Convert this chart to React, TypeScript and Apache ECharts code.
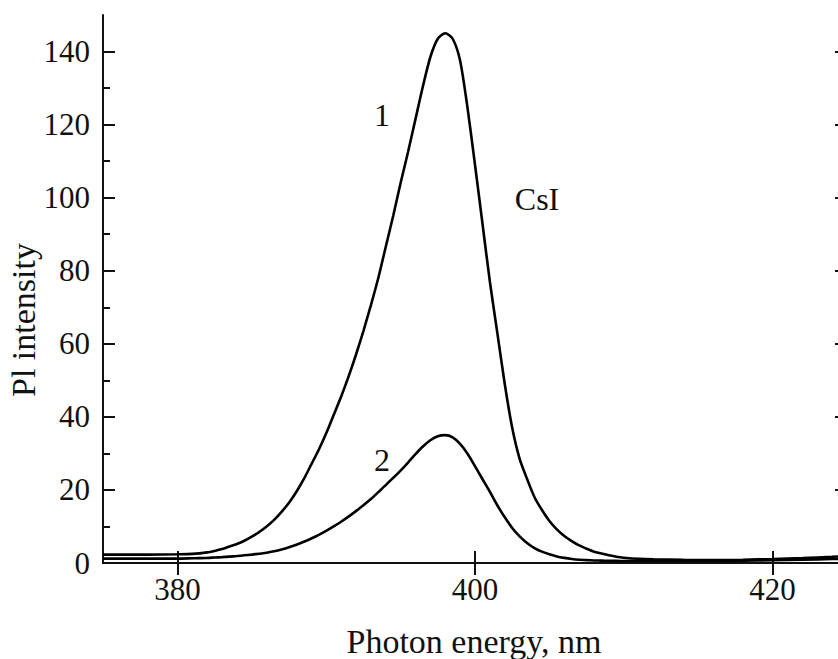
import React, { useEffect, useRef } from "react";
import * as echarts from "echarts";

const wavelengths = [
  375, 378, 380, 381, 382, 382.5, 383, 383.5, 384, 384.5, 385, 385.5, 386, 386.5, 387, 387.5, 388, 388.5,
  389, 389.5, 390, 390.5, 391, 391.5, 392, 392.5, 393, 393.5, 394, 394.5, 395, 395.5, 396, 396.5, 397,
  397.5, 398, 398.5, 399, 399.5, 400, 400.5, 401, 401.5, 402, 402.5, 403, 403.5, 404, 404.5, 405, 405.5,
  406, 406.5, 407, 407.5, 408, 408.5, 409, 409.5, 410, 411, 412, 414, 416, 418, 420, 422, 424, 425,
];
const curve1 = [
  2.3, 2.3, 2.4, 2.5, 2.9, 3.3, 3.8, 4.5, 5.2, 6.1, 7.2, 8.5, 10.0, 11.8, 14.0, 16.5, 19.5, 23.0,
  27.0, 31.0, 35.5, 40.5, 45.5, 51, 57, 63.5, 70.5, 78, 86.5, 95, 104, 112.5, 121.5, 130.5, 138.5,
  143.5, 145, 143.5, 137.5, 124.5, 109, 93, 77, 63, 49, 37, 28.5, 23, 18, 14.5, 11.5, 9.2,
  7.4, 6.0, 4.8, 3.9, 3.1, 2.6, 2.1, 1.7, 1.45, 1.15, 1.0, 0.85, 0.8, 0.9, 1.1, 1.35, 1.7, 1.9,
];
const curve2 = [
  1.2, 1.2, 1.2, 1.3, 1.4, 1.5, 1.6, 1.75, 1.9, 2.1, 2.3, 2.55, 2.8, 3.2, 3.7, 4.3, 5.0, 5.8,
  6.7, 7.7, 8.8, 10.0, 11.3, 12.7, 14.2, 15.8, 17.5, 19.4, 21.3, 23.3, 25.3, 27.5, 29.8, 31.9, 33.6,
  34.7, 35, 34.4, 32.6, 29.9, 26.5, 23, 19.5, 15.8, 12.5, 9.6, 7.3, 5.5, 4.1, 3.1, 2.4, 1.8,
  1.4, 1.1, 0.9, 0.8, 0.7, 0.65, 0.6, 0.58, 0.55, 0.5, 0.5, 0.5, 0.5, 0.6, 0.75, 0.9, 1.1, 1.2,
];
const xTicks = [380, 400, 420];
const yMajorTicks = [0, 20, 40, 60, 80, 100, 120, 140];
const yMinorTicks = [10, 30, 50, 70, 90, 110, 130];
const curveNames = ["1", "2"];
const sampleName = "CsI";
const xTitle = "Photon energy, nm";
const yTitle = "Pl intensity";

export default function App() {
  const ref = useRef<HTMLDivElement>(null);
  useEffect(() => {
    const chart = echarts.init(ref.current!, null, { renderer: "svg" });
    const font = "'Liberation Serif', 'Times New Roman', serif";
    const ink = "#111";
    const axisLine = { show: true, lineStyle: { color: ink, width: 2 } };
    const mkX = (position: string, showLabel: boolean) => ({
      type: "value",
      min: 375,
      max: 425,
      position,
      axisLine,
      splitLine: { show: false },
      axisTick: { show: true, inside: true, length: 12, customValues: xTicks, lineStyle: { color: ink, width: 2 } },
      axisLabel: {
        show: showLabel,
        customValues: xTicks,
        fontSize: 31,
        fontFamily: font,
        color: ink,
        margin: 11,
      },
    });
    const mkY = (position: string, ticks: number[], len: number, showLabel: boolean, showLine: boolean) => ({
      type: "value",
      min: 0,
      max: 150,
      position,
      axisLine: { ...axisLine, show: showLine },
      splitLine: { show: false },
      axisTick: { show: true, inside: true, length: len, customValues: ticks, lineStyle: { color: ink, width: 2 } },
      axisLabel: {
        show: showLabel,
        customValues: ticks,
        fontSize: 31,
        fontFamily: font,
        color: ink,
        margin: 13,
      },
    });
    const mkSeries = (values: number[]) => ({
      type: "line",
      xAxisIndex: 0,
      yAxisIndex: 0,
      data: wavelengths.map((w, i) => [w, values[i]]),
      showSymbol: false,
      smooth: 0.25,
      lineStyle: { color: "#000", width: 2.6 },
      clip: true,
    });
    const textStyle = (size: number) => ({ fontSize: size, fontFamily: font, fill: ink, align: "center", verticalAlign: "middle" });
    chart.setOption({
      animation: false,
      backgroundColor: "#fff",
      grid: { left: 103, top: 15, width: 744, height: 548, outerBoundsMode: "none" },
      xAxis: [mkX("bottom", true), mkX("top", false)],
      yAxis: [
        mkY("left", yMajorTicks, 12, true, true),
        mkY("left", yMinorTicks, 7, false, false),
        mkY("right", yMajorTicks, 12, false, true),
        mkY("right", yMinorTicks, 7, false, false),
      ],
      series: [mkSeries(curve1), mkSeries(curve2)],
      graphic: [
        { type: "text", x: 382, y: 115, style: { text: curveNames[0], ...textStyle(32) } },
        { type: "text", x: 382, y: 460, style: { text: curveNames[1], ...textStyle(32) } },
        { type: "text", x: 537, y: 199, style: { text: sampleName, ...textStyle(32) } },
        { type: "text", x: 474, y: 641, style: { text: xTitle, ...textStyle(34) } },
        { type: "text", x: 23, y: 320, rotation: Math.PI / 2, style: { text: yTitle, ...textStyle(34) } },
      ],
    });
    return () => chart.dispose();
  }, []);
  return <div ref={ref} style={{ position: "absolute", left: 0, top: 0, width: 838, height: 659 }} />;
}
